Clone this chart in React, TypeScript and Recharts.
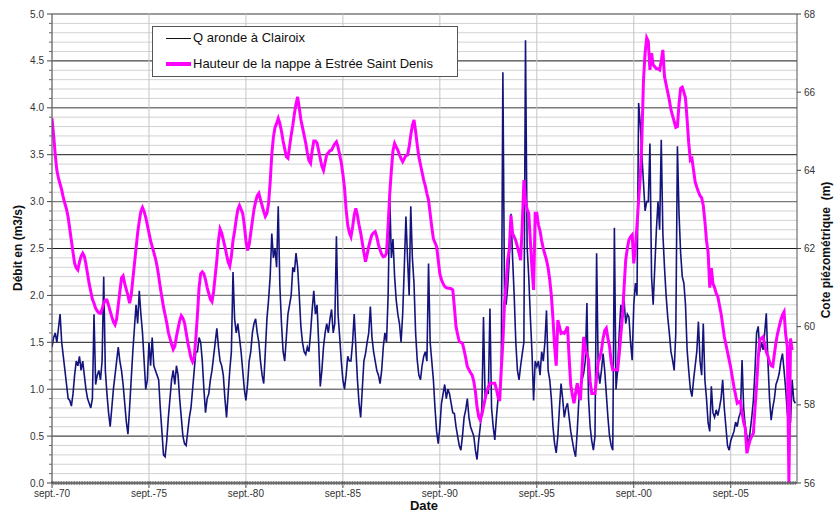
import { LineChart, Line, XAxis, YAxis, CartesianGrid } from 'recharts'

// monthly readings, first value = sept. 1970 (one row = sept..aug)
const debit = [
  1.45, 1.55, 1.6, 1.5, 1.65, 1.8, 1.5, 1.35, 1.2, 1.05, 0.9, 0.88,
  0.82, 0.95, 1.15, 1.3, 1.25, 1.35, 1.2, 1.3, 1.15, 1.0, 0.9, 0.85,
  0.8, 0.9, 1.8, 1.05, 1.15, 1.2, 1.1, 1.3, 2.2, 1.2, 0.95, 0.75,
  0.6, 0.8, 1.0, 1.15, 1.3, 1.45, 1.3, 1.2, 1.05, 0.85, 0.65, 0.52,
  0.8, 1.1, 1.4, 1.65, 1.9, 1.7, 2.05, 1.8, 1.6, 1.3, 1.0, 1.1,
  1.5, 1.25, 1.55, 1.25, 1.2, 1.15, 1.1, 0.8, 0.55, 0.3, 0.28, 0.45,
  0.7, 0.9, 1.1, 1.2, 1.05, 1.25, 1.15, 0.9, 0.7, 0.5, 0.42, 0.4,
  0.55, 0.7, 0.8, 1.0, 1.2, 1.4, 1.4, 1.55, 1.5, 1.3, 1.0, 0.75,
  0.9, 0.95, 1.1, 1.2, 1.35, 1.5, 1.65, 1.45, 1.3, 1.25, 1.15, 0.9,
  0.7, 0.95, 1.2, 1.4, 2.25, 1.75, 1.6, 1.7, 1.55, 1.4, 1.2, 1.0,
  0.88, 1.05, 1.3, 1.4, 1.6, 1.7, 1.75, 1.6, 1.5, 1.3, 1.15, 1.06,
  1.4, 1.75, 1.95, 2.2, 2.66, 2.4, 2.5, 2.3, 2.95, 2.1, 1.7, 1.4,
  1.3, 1.55, 1.8, 1.9, 2.0, 2.3, 2.25, 2.45, 2.3, 2.0, 1.67, 1.5,
  1.4, 1.37, 1.45, 1.4, 1.6, 1.85, 2.05, 1.8, 1.9, 1.5, 1.03, 1.2,
  1.45, 1.6, 1.7, 1.6, 1.75, 1.85, 1.6, 1.7, 2.63, 1.8, 1.56, 1.3,
  1.1, 1.0, 1.15, 1.35, 1.3, 1.3, 1.5, 1.8, 1.45, 1.1, 0.85, 0.7,
  1.0, 1.3, 1.38, 1.5, 1.6, 1.88, 1.55, 1.4, 1.3, 1.2, 1.15, 1.06,
  1.2, 1.45, 1.6, 1.5, 2.0, 3.05, 2.4, 2.6, 2.2, 1.95, 1.8, 1.7,
  1.5, 1.8, 2.3, 2.84, 2.4, 2.0, 2.95, 2.4, 2.13, 1.6, 1.31, 1.15,
  1.1, 1.25, 1.35, 1.4, 1.3, 2.34, 1.5, 1.3, 1.1, 0.8, 0.55, 0.42,
  0.6, 0.85, 0.95, 1.05, 0.9, 1.0, 0.95, 0.85, 0.75, 0.74, 0.6, 0.5,
  0.4, 0.35, 0.5, 0.7, 0.78, 0.9, 0.7, 0.6, 0.55, 0.5, 0.35, 0.25,
  0.45, 0.6, 0.8, 1.77, 0.9, 1.0, 0.95, 1.86, 0.8, 0.6, 0.46, 0.7,
  0.9, 0.9, 1.2, 4.38, 2.0, 1.9, 2.1, 2.4, 2.87, 2.4, 2.0, 1.5,
  1.2, 1.1, 1.25, 1.38, 1.5, 4.72, 2.52, 2.2, 1.77, 1.4, 0.88, 1.3,
  1.24, 1.3, 1.15, 1.4, 1.3, 1.5, 1.84, 1.2, 1.1, 0.9, 0.6, 0.42,
  0.32, 0.5, 0.8, 1.06, 0.9, 0.7, 0.8, 0.85, 0.7, 0.55, 0.45, 0.35,
  0.28, 0.55, 0.88, 1.0, 1.1, 1.17, 1.3, 1.92, 0.9, 0.6, 0.45, 0.35,
  0.5, 2.45, 1.2, 1.06, 1.2, 1.38, 1.2, 0.95, 0.7, 0.5, 0.4, 0.35,
  2.72, 1.0, 1.2, 1.6, 1.9, 1.8, 1.95, 1.7, 1.8, 1.77, 1.5, 1.31,
  1.9, 2.13, 2.0, 4.05, 3.83, 3.5, 3.2, 2.9, 3.0, 3.0, 3.62, 2.2,
  1.9, 2.3, 2.7, 3.0, 2.7, 3.66, 2.66, 2.3, 2.0, 1.77, 1.6, 1.4,
  1.31, 1.2, 1.6, 3.59, 2.87, 2.45, 2.2, 2.13, 1.9, 1.42, 1.2, 1.0,
  0.92, 1.1, 1.25, 1.4, 1.72, 1.3, 1.15, 1.7, 1.1, 0.9, 0.64, 0.55,
  1.03, 0.75, 0.7, 0.78, 0.72, 0.8, 0.9, 1.1, 0.8, 0.6, 0.4, 0.35,
  0.45, 0.5, 0.55, 0.65, 0.6, 0.7, 0.75, 1.31, 0.8, 0.6, 0.5, 0.4,
  0.55, 0.7, 0.88, 1.2, 1.6, 1.67, 1.4, 1.5, 1.42, 1.6, 1.81, 1.3,
  0.9, 0.67, 0.8, 0.9, 1.05, 1.1, 1.17, 1.3, 1.38, 1.2, 1.0, 0.75,
  0.6, 0.65, 1.1, 0.88, 0.85,
]

const nappe = [
  65.33, 64.9, 64.4, 64.0, 63.8, 63.65, 63.5, 63.3, 63.15, 63.0, 62.8, 62.5,
  62.2, 61.9, 61.62, 61.5, 61.45, 61.65, 61.8, 61.88, 61.8, 61.6, 61.35, 61.1,
  60.9, 60.7, 60.6, 60.47, 60.4, 60.35, 60.34, 60.45, 60.6, 60.68, 60.68, 60.55,
  60.4, 60.25, 60.12, 60.05, 60.2, 60.55, 60.9, 61.25, 61.3, 61.1, 60.95, 60.8,
  60.6, 60.8, 61.2, 61.6, 62.0, 62.4, 62.7, 62.95, 63.05, 62.95, 62.8, 62.6,
  62.4, 62.2, 62.05, 61.9, 61.75, 61.55, 61.3, 61.0, 60.75, 60.5, 60.3, 60.1,
  59.85, 59.7, 59.55, 59.42, 59.5, 59.75, 59.95, 60.15, 60.28, 60.22, 60.1, 59.85,
  59.6, 59.4, 59.2, 59.1, 59.2, 59.7, 60.3, 61.0, 61.35, 61.4, 61.35, 61.2,
  61.0, 60.85, 60.7, 60.64, 60.9, 61.3, 61.7, 62.2, 62.5, 62.4, 62.22, 62.05,
  61.85, 61.65, 61.55, 61.8, 62.2, 62.45, 62.75, 63.0, 63.1, 63.0, 62.9, 62.6,
  62.2, 61.95, 62.1, 62.4, 62.7, 63.0, 63.2, 63.35, 63.41, 63.25, 63.1, 62.95,
  62.82, 62.9, 63.15, 63.7, 64.4, 64.85, 65.1, 65.2, 65.33, 65.2, 65.0, 64.75,
  64.55, 64.35, 64.31, 64.6, 64.9, 65.15, 65.45, 65.7, 65.88, 65.6, 65.3, 65.1,
  64.9, 64.7, 64.45, 64.25, 64.18, 64.5, 64.75, 64.75, 64.7, 64.5, 64.3, 64.1,
  64.0, 64.2, 64.4, 64.45, 64.5, 64.52, 64.6, 64.68, 64.73, 64.6, 64.4, 64.2,
  63.9, 63.55, 63.0, 62.6, 62.4, 62.3, 62.55, 62.85, 63.03, 62.85, 62.6, 62.4,
  62.15, 61.9, 61.66, 61.85, 62.05, 62.22, 62.35, 62.4, 62.43, 62.3, 62.1, 61.96,
  61.85, 61.79, 61.8, 61.88, 62.6, 63.4, 64.0, 64.5, 64.69, 64.6, 64.52, 64.4,
  64.3, 64.22, 64.3, 64.38, 64.39, 64.6, 64.9, 65.15, 65.29, 65.0, 64.65, 64.35,
  64.15, 63.95, 63.75, 63.6, 63.4, 63.24, 62.9, 62.55, 62.25, 62.15, 62.05, 61.7,
  61.35, 61.2, 61.1, 61.03, 61.0, 60.98, 60.98, 60.97, 60.94, 60.5, 60.0, 59.8,
  59.62, 59.6, 59.57, 59.4, 59.2, 58.98, 58.9, 58.82, 58.76, 58.6, 58.34, 57.95,
  57.7, 57.61, 57.75, 57.95, 58.15, 58.35, 58.45, 58.55, 58.55, 58.55, 58.55, 58.4,
  58.2, 58.1, 58.9, 59.6, 60.6, 61.1, 61.7, 62.0, 62.85, 62.39, 62.3, 62.2,
  62.05, 61.88, 61.7, 62.6, 63.75, 63.24, 63.0, 62.9, 62.2, 61.5, 60.94, 62.9,
  62.9, 62.6, 62.45, 62.2, 62.0, 61.85, 61.7, 61.5, 61.2, 60.8, 60.2, 59.5,
  59.0, 60.17, 60.0, 59.83, 59.85, 59.83, 59.9, 60.0, 59.2, 58.5, 58.25, 58.04,
  58.3, 58.55, 58.3, 58.12, 58.9, 59.74, 59.4, 59.3, 59.15, 58.6, 58.29, 58.29,
  58.29, 58.7, 59.1, 59.2, 59.4, 59.7, 59.9, 59.96, 59.7, 59.5, 59.1, 58.89,
  58.89, 58.9, 58.89, 59.3, 59.8, 60.26, 61.0, 61.7, 62.0, 62.22, 62.3, 62.35,
  61.62, 62.0, 62.6, 63.24, 63.8, 64.8, 66.3, 67.0, 67.39, 67.3, 66.57, 67.0,
  66.7, 66.65, 66.6, 66.6, 66.57, 66.8, 67.08, 66.4, 66.2, 66.0, 65.8, 65.55,
  65.4, 65.25, 65.1, 65.12, 65.7, 66.1, 66.13, 66.0, 65.85, 65.3, 64.7, 64.26,
  64.3, 64.0, 63.7, 63.57, 63.45, 63.35, 63.3, 63.1, 62.7, 62.2, 61.9, 61.0,
  61.5, 61.1, 61.0, 60.85, 60.77, 60.55, 60.34, 60.05, 59.75, 59.55, 59.35, 59.15,
  58.95, 58.7, 58.46, 58.25, 58.04, 58.07, 58.1, 57.8, 57.55, 57.4, 56.76, 56.95,
  57.1, 57.2, 57.27, 57.9, 58.5, 59.2, 59.66, 59.7, 59.74, 59.55, 59.35, 59.25,
  59.1, 59.0, 58.98, 59.3, 59.6, 59.83, 60.0, 60.17, 60.3, 60.38, 59.8, 59.5,
  56.0, 59.7, 59.4,
]

const xLabels = ['sept.-70', 'sept.-75', 'sept.-80', 'sept.-85', 'sept.-90', 'sept.-95', 'sept.-00', 'sept.-05']
const xMajor = [0, 60, 120, 180, 240, 300, 360, 420]
const nappeTicks = [56, 58, 60, 62, 64, 66, 68]
const debitMax = 5
const xMax = 461

const months = Array.from({ length: xMax }, (_, i) => i)
const debitTicks = Array.from({ length: debitMax * 10 + 1 }, (_, i) => i / 10)

const data = debit.map((q, i) => ({ m: i, q, h: i < nappe.length ? nappe[i] : null }))

const font = 'Arial, "Liberation Sans", sans-serif'

const XTick = (props: any) => {
  const { x, y, payload } = props
  const idx = xMajor.indexOf(payload.value)
  if (idx >= 0) {
    return (
      <g>
        <line x1={x} x2={x} y1={y - 2} y2={y + 5} stroke="#444" />
        <text x={x} y={y + 14} textAnchor="middle" fontSize={10} fill="#333" fontFamily={font}>{xLabels[idx]}</text>
      </g>
    )
  }
  return <line x1={x} x2={x} y1={y - 2} y2={y + 2} stroke="#666" strokeWidth={0.8} />
}

const QTick = (props: any) => {
  const { x, y, payload } = props
  const k = Math.round(payload.value * 10)
  if (k % 5 === 0) {
    return (
      <g>
        <line x1={x - 5} x2={x} y1={y} y2={y} stroke="#444" />
        <text x={x - 8} y={y} dy="0.35em" textAnchor="end" fontSize={10} fill="#333" fontFamily={font}>{payload.value.toFixed(1)}</text>
      </g>
    )
  }
  return <line x1={x - 3} x2={x} y1={y} y2={y} stroke="#666" />
}

const HTick = (props: any) => {
  const { x, y, payload } = props
  return (
    <g>
      <line x1={x} x2={x + 4} y1={y} y2={y} stroke="#444" />
      <text x={x + 7} y={y} dy="0.35em" textAnchor="start" fontSize={10} fill="#333" fontFamily={font}>{payload.value}</text>
    </g>
  )
}

const hLine = (p: any) => {
  const k = Math.round(debitMax * 10 * (1 - (p.y1 - p.y) / p.height))
  let stroke = '#d2d2d2'
  let w = 1
  if (k % 10 === 0) { stroke = '#7a7a7a'; w = 1.4 }
  else if (k % 5 === 0) { stroke = '#1a1a1a'; w = 1 }
  return <line key={p.key} x1={p.x1} x2={p.x2} y1={p.y1} y2={p.y2} stroke={stroke} strokeWidth={w} />
}

const vLine = (p: any) => {
  const k = Math.round(((p.x1 - p.x) / p.width) * xMax)
  if (!xMajor.includes(k)) return <g key={p.key} />
  return <line key={p.key} x1={p.x1} x2={p.x2} y1={p.y1} y2={p.y2} stroke="#c4c4c4" strokeWidth={1} />
}

export default function App() {
  return (
    <div style={{ position: 'absolute', left: 0, top: 0, width: 835, height: 513, background: '#fff', fontFamily: font, overflow: 'hidden' }}>
      <LineChart width={835} height={513} data={data} margin={{ top: 14, right: 0, bottom: 0, left: 0 }}>
        <CartesianGrid yAxisId="q" horizontal={hLine} vertical={vLine} />
        <XAxis dataKey="m" type="number" domain={[0, xMax]} ticks={months} interval={0} tick={<XTick />}
          tickLine={false} tickSize={0} tickMargin={0} height={30} axisLine={{ stroke: '#555' }} allowDataOverflow />
        <YAxis yAxisId="q" domain={[0, debitMax]} ticks={debitTicks} interval={0} tick={<QTick />}
          tickLine={false} tickSize={0} tickMargin={0} width={52} axisLine={{ stroke: '#555' }} allowDataOverflow />
        <YAxis yAxisId="h" orientation="right" domain={[56, 68]} ticks={nappeTicks} interval={0} tick={<HTick />}
          tickLine={false} tickSize={0} tickMargin={0} width={38} axisLine={{ stroke: '#555' }} allowDataOverflow />
        <Line yAxisId="q" dataKey="q" type="linear" stroke="#14147c" strokeWidth={1.6} dot={false} isAnimationActive={false} />
        <Line yAxisId="h" dataKey="h" type="linear" stroke="#ff00ff" strokeWidth={3} dot={false} isAnimationActive={false} />
      </LineChart>

      <div style={{ position: 'absolute', left: 152, top: 26, width: 306, height: 51, background: '#fff', border: '1px solid #555', boxSizing: 'border-box', fontSize: 13, color: '#111' }}>
        <div style={{ position: 'absolute', left: 13, top: 11, width: 25, height: 1, background: '#111' }} />
        <div style={{ position: 'absolute', left: 40, top: 3, lineHeight: '16px', whiteSpace: 'nowrap' }}>Q aronde à Clairoix</div>
        <div style={{ position: 'absolute', left: 13, top: 35, width: 25, height: 4, background: '#ff00ff' }} />
        <div style={{ position: 'absolute', left: 40, top: 29, lineHeight: '16px', whiteSpace: 'nowrap' }}>Hauteur de la nappe à Estrée Saint Denis</div>
      </div>

      <div style={{ position: 'absolute', left: 18, top: 248, transform: 'translate(-50%, -50%) rotate(-90deg)', fontSize: 12, fontWeight: 'bold', whiteSpace: 'nowrap', color: '#111' }}>Débit en (m3/s)</div>
      <div style={{ position: 'absolute', left: 826, top: 250, transform: 'translate(-50%, -50%) rotate(-90deg)', fontSize: 12, fontWeight: 'bold', whiteSpace: 'pre', color: '#111' }}>Cote piézométrique  (m)</div>
      <div style={{ position: 'absolute', left: 424, top: 505, transform: 'translate(-50%, -50%)', fontSize: 13, lineHeight: '13px', fontWeight: 'bold', whiteSpace: 'nowrap', color: '#111' }}>Date</div>
    </div>
  )
}
